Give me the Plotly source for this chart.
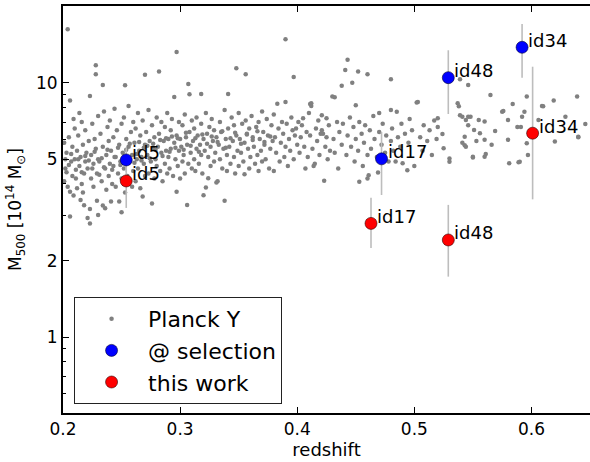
import math
import plotly.graph_objects as go

# Planck SZ clusters (redshift, M500 in 1e14 Msun), one row per redshift slice
planck_z = [
    0.201, 0.202, 0.203, 0.204, 0.204, 0.205, 0.206, 0.206, 0.206, 0.207, 0.208, 0.208, 0.209, 0.210, 0.210, 0.203, 0.201, 0.209,
    0.211, 0.212, 0.212, 0.213, 0.214, 0.215, 0.215, 0.216, 0.216, 0.217, 0.218, 0.218, 0.219, 0.219, 0.220, 0.214, 0.217,
    0.221, 0.221, 0.222, 0.223, 0.223, 0.223, 0.224, 0.224, 0.225, 0.226, 0.226, 0.227, 0.228, 0.228, 0.228, 0.229, 0.229, 0.230, 0.230, 0.230,
    0.231, 0.232, 0.233, 0.234, 0.234, 0.234, 0.235, 0.236, 0.236, 0.237, 0.237, 0.238, 0.239, 0.239, 0.240, 0.240,
    0.241, 0.241, 0.242, 0.243, 0.243, 0.244, 0.245, 0.245, 0.246, 0.247, 0.248, 0.248, 0.249, 0.250, 0.250, 0.250,
    0.251, 0.252, 0.252, 0.253, 0.253, 0.254, 0.255, 0.256, 0.256, 0.257, 0.258, 0.259, 0.259, 0.260, 0.260,
    0.261, 0.262, 0.262, 0.263, 0.264, 0.264, 0.265, 0.266, 0.266, 0.267, 0.268, 0.268, 0.269, 0.270, 0.270, 0.270,
    0.271, 0.272, 0.273, 0.273, 0.274, 0.275, 0.276, 0.276, 0.277, 0.278, 0.278, 0.279, 0.280, 0.280,
    0.281, 0.282, 0.282, 0.283, 0.284, 0.284, 0.285, 0.286, 0.287, 0.287, 0.288, 0.289, 0.289, 0.290, 0.290,
    0.291, 0.292, 0.292, 0.293, 0.294, 0.295, 0.295, 0.296, 0.297, 0.297, 0.297, 0.298, 0.299, 0.299, 0.300, 0.300,
    0.301, 0.302, 0.302, 0.303, 0.304, 0.304, 0.305, 0.306, 0.306, 0.307, 0.307, 0.308, 0.308, 0.309, 0.310, 0.310,
    0.311, 0.312, 0.312, 0.313, 0.314, 0.314, 0.315, 0.316, 0.317, 0.318, 0.318, 0.318, 0.319, 0.320, 0.320,
    0.321, 0.322, 0.322, 0.323, 0.324, 0.324, 0.325, 0.326, 0.326, 0.327, 0.328, 0.329, 0.329, 0.330,
    0.331, 0.331, 0.332, 0.333, 0.334, 0.334, 0.335, 0.336, 0.337, 0.338, 0.338, 0.339, 0.340, 0.340,
    0.341, 0.341, 0.342, 0.343, 0.344, 0.345, 0.346, 0.346, 0.347, 0.348, 0.348, 0.349, 0.350, 0.350,
    0.351, 0.352, 0.353, 0.354, 0.355, 0.355, 0.356, 0.356, 0.357, 0.358, 0.359, 0.359, 0.360,
    0.361, 0.362, 0.363, 0.364, 0.365, 0.366, 0.367, 0.367, 0.368, 0.369, 0.370, 0.370,
    0.371, 0.372, 0.373, 0.374, 0.375, 0.376, 0.377, 0.378, 0.379, 0.380, 0.380,
    0.381, 0.382, 0.383, 0.384, 0.385, 0.386, 0.387, 0.388, 0.389, 0.390, 0.390, 0.390,
    0.391, 0.392, 0.393, 0.394, 0.395, 0.396, 0.397, 0.397, 0.398, 0.399, 0.400,
    0.401, 0.402, 0.403, 0.404, 0.405, 0.406, 0.407, 0.408, 0.409, 0.410,
    0.411, 0.411, 0.412, 0.412, 0.413, 0.414, 0.415, 0.416, 0.417, 0.418, 0.419, 0.420,
    0.421, 0.421, 0.422, 0.423, 0.424, 0.425, 0.425, 0.426, 0.427, 0.428, 0.430, 0.432,
    0.431, 0.432, 0.434, 0.435, 0.436, 0.438, 0.438, 0.439,
    0.441, 0.442, 0.443, 0.443, 0.445, 0.446, 0.447, 0.448, 0.449, 0.450, 0.450,
    0.452, 0.452, 0.453, 0.453, 0.455, 0.456, 0.457, 0.458, 0.460, 0.460, 0.460,
    0.461, 0.462, 0.463, 0.465, 0.466, 0.468, 0.469, 0.470, 0.470,
    0.472, 0.473, 0.475, 0.476, 0.478, 0.480, 0.480, 0.480,
    0.481, 0.482, 0.484, 0.485, 0.486, 0.488, 0.489,
    0.490, 0.492, 0.494, 0.495, 0.496, 0.498, 0.500,
    0.502, 0.503, 0.505, 0.507, 0.508, 0.511, 0.513, 0.515, 0.517, 0.519, 0.520, 0.520, 0.524, 0.525, 0.530, 0.530,
    0.537, 0.538, 0.539, 0.539, 0.541, 0.541, 0.543, 0.543, 0.544, 0.544, 0.546, 0.546, 0.546, 0.548, 0.550, 0.550,
    0.551, 0.553, 0.555, 0.556, 0.560, 0.560, 0.560, 0.561, 0.565, 0.566, 0.569,
    0.575, 0.576, 0.580, 0.580, 0.581, 0.584, 0.588, 0.589, 0.590, 0.591, 0.592, 0.594, 0.596, 0.596, 0.597,
    0.606, 0.609, 0.610, 0.619, 0.620, 0.629, 0.639, 0.640, 0.640, 0.646,
    # extra points filling the crowded low-redshift band
    0.202, 0.205, 0.207, 0.211, 0.213, 0.216, 0.219, 0.222, 0.225, 0.227, 0.231, 0.233, 0.235, 0.238,
    0.242, 0.244, 0.247, 0.249, 0.251, 0.254, 0.257, 0.261, 0.263, 0.265, 0.267, 0.269, 0.272, 0.274,
    0.277, 0.279, 0.283, 0.285, 0.288, 0.291, 0.293, 0.296, 0.298, 0.303, 0.305, 0.309, 0.313, 0.316,
    0.319, 0.323, 0.327, 0.332, 0.336, 0.339, 0.343, 0.347, 0.352, 0.357, 0.362, 0.366, 0.372, 0.377,
]
planck_m = [
    4.1, 4.6, 5.3, 16.2, 3.9, 6.1, 3.73, 2.98, 8.5, 4.9, 5.6, 4.3, 3.6, 6.6, 5.0, 4.45, 5.8, 7.2,
    4.2, 3.85, 5.4, 6.2, 4.7, 3.46, 5.1, 7.0, 4.0, 5.7, 4.4, 3.3, 6.5, 4.9, 5.3, 7.6, 3.7,
    4.6, 2.94, 5.9, 2.8, 3.19, 8.87, 4.2, 5.2, 6.9, 3.9, 4.8, 6.0, 11.7, 10.8, 5.5, 3.44, 4.4, 3.02, 7.4, 5.0,
    4.9, 6.3, 4.1, 3.29, 9.8, 5.6, 7.7, 3.21, 4.6, 5.2, 3.8, 6.7, 4.3, 5.9, 4.8, 7.1,
    3.41, 5.4, 4.0, 6.1, 4.7, 7.9, 5.1, 3.9, 6.5, 4.4, 3.41, 5.7, 4.9, 3.1, 6.9, 4.2,
    5.3, 7.3, 4.6, 9.77, 3.7, 6.0, 4.3, 5.6, 8.1, 4.9, 6.4, 3.9, 5.2, 7.0, 4.5,
    5.8, 4.1, 6.6, 5.0, 7.6, 4.6, 5.4, 3.85, 6.2, 5.1, 3.57, 7.1, 4.8, 10.75, 5.7, 4.3,
    6.4, 5.2, 4.4, 7.8, 5.9, 4.9, 3.35, 6.8, 5.5, 4.2, 6.1, 5.0, 7.3, 4.7,
    5.6, 11.05, 6.3, 4.5, 5.3, 7.0, 4.1, 5.9, 6.7, 4.8, 5.4, 7.6, 4.4, 6.0, 5.1,
    4.6, 6.5, 5.5, 7.2, 4.3, 5.8, 8.79, 5.0, 13.2, 3.73, 6.2, 4.7, 5.4, 7.0, 6.0, 4.2,
    5.6, 6.8, 4.9, 5.2, 7.5, 4.4, 6.1, 3.31, 5.7, 9.88, 4.8, 9.0, 6.4, 5.3, 7.1, 4.6,
    5.9, 6.6, 5.0, 4.5, 7.3, 5.5, 6.2, 4.8, 5.7, 9.03, 6.9, 5.2, 4.4, 3.61, 6.0,
    5.4, 3.87, 7.6, 6.3, 4.21, 5.1, 6.7, 5.6, 4.7, 7.2, 5.9, 4.9, 6.5, 5.3,
    4.05, 6.1, 4.1, 5.7, 7.0, 5.0, 6.4, 4.6, 5.5, 3.44, 7.8, 6.0, 5.2, 4.5,
    9.03, 6.6, 5.6, 4.8, 7.3, 5.9, 6.8, 5.1, 4.4, 11.4, 6.2, 5.4, 7.6, 4.7,
    6.0, 5.3, 6.9, 4.9, 4.37, 5.8, 10.8, 7.1, 6.3, 5.5, 4.6, 6.6, 5.1,
    7.4, 6.1, 5.6, 4.8, 6.7, 5.2, 4.5, 7.0, 6.0, 5.4, 7.7, 4.9,
    6.4, 5.7, 5.0, 7.2, 6.2, 4.6, 5.5, 6.8, 5.9, 4.5, 7.5,
    6.1, 5.3, 8.27, 6.6, 4.9, 5.8, 7.0, 6.3, 5.1, 14.8, 8.4, 5.6,
    6.9, 4.7, 6.0, 5.4, 7.3, 6.5, 10.53, 5.0, 6.2, 6.6, 5.7,
    7.0, 5.3, 6.1, 6.8, 7.25, 5.6, 4.6, 6.4, 5.1, 7.6,
    8.25, 6.2, 8.1, 8.3, 5.5, 4.7, 4.8, 6.6, 5.9, 7.1, 5.2, 6.3,
    7.45, 6.5, 6.3, 4.12, 5.6, 7.25, 6.1, 5.0, 6.8, 5.4, 8.82, 8.76,
    6.0, 5.3, 7.0, 4.6, 6.4, 9.72, 5.7, 6.9,
    11.2, 5.2, 12.3, 6.2, 7.3, 5.6, 10.0, 6.7, 4.9, 8.15, 6.0,
    11.05, 5.4, 7.0, 4.08, 6.3, 4.7, 5.8, 6.8, 10.8, 5.2, 4.2,
    4.33, 6.5, 5.5, 7.4, 6.0, 5.1, 4.44, 7.6, 6.4,
    5.7, 6.9, 5.3, 6.2, 4.9, 10.3, 7.8, 5.9,
    6.6, 5.4, 4.9, 7.69, 6.1, 5.6, 6.9,
    4.82, 6.3, 4.53, 5.8, 7.2, 6.5, 4.7,
    8.35, 8.4, 6.1, 5.4, 6.8, 5.9, 6.5, 5.2, 7.1, 6.0, 7.25, 6.7, 6.28, 5.53, 5.04, 4.89,
    8.3, 8.07, 10.3, 7.45, 7.35, 5.8, 6.13, 5.68, 7.13, 5.6, 6.8, 9.8, 7.35, 7.35, 5.12, 5.08,
    6.52, 5.9, 7.13, 6.33, 7.04, 5.96, 5.12, 5.25, 8.94, 5.7, 6.46,
    7.69, 7.74, 7.13, 5.96, 4.82, 8.25, 6.7, 4.87, 4.89, 6.7, 7.35, 7.69, 8.82, 5.78, 5.2,
    7.13, 8.1, 8.07, 8.5, 5.87, 7.35, 8.82, 6.13, 6.1, 6.88,
    5.0, 4.75, 5.25, 4.55, 5.0, 4.45, 5.15, 4.95, 4.6, 5.35, 4.35, 5.05, 4.65, 5.45,
    4.55, 5.1, 5.55, 4.75, 4.95, 5.45, 5.75, 4.85, 5.25, 5.85, 4.95, 5.55, 5.65, 5.05,
    5.75, 5.45, 5.95, 5.15, 6.05, 5.35, 6.15, 5.55, 6.05, 5.45, 6.35, 5.65, 6.05, 5.35,
    6.25, 5.75, 6.15, 5.85, 6.45, 5.55, 6.05, 6.35, 5.75, 6.25, 5.95, 6.45, 5.85, 6.15,
]
assert len(planck_z) == len(planck_m)

# "@ selection" masses with error ranges
sel_names = ["id5", "id17", "id48", "id34"]
sel_z = [0.254, 0.472, 0.529, 0.592]
sel_m = [4.97, 5.02, 10.46, 13.77]
sel_hi = [5.53, 6.4, 13.4, 17.0]
sel_lo = [4.46, 3.62, 7.53, 10.46]

# "this work" masses with error ranges
work_names = ["id5", "id17", "id48", "id34"]
work_z = [0.254, 0.463, 0.529, 0.601]
work_m = [4.11, 2.80, 2.41, 6.33]
work_hi = [5.3, 3.53, 3.31, 11.55]
work_lo = [3.22, 2.24, 1.73, 3.48]

FONT = "DejaVu Sans"
ERR_COLOR = "#bdbdbd"


def err_trace(z, m, hi, lo):
    return go.Scatter(
        x=z, y=m, mode="markers",
        marker=dict(size=2, opacity=0),
        error_y=dict(type="data", symmetric=False,
                     array=[h - v for h, v in zip(hi, m)],
                     arrayminus=[v - l for v, l in zip(m, lo)],
                     color=ERR_COLOR, thickness=1.6, width=0),
        showlegend=False, hoverinfo="skip",
    )


fig = go.Figure()
fig.add_trace(go.Scatter(
    x=planck_z, y=planck_m, mode="markers", name="Planck Y",
    marker=dict(size=4.5, color="#808080", line=dict(width=0)),
))
fig.add_trace(err_trace(sel_z, sel_m, sel_hi, sel_lo))
fig.add_trace(err_trace(work_z, work_m, work_hi, work_lo))
fig.add_trace(go.Scatter(
    x=sel_z, y=sel_m, mode="markers", name="@ selection",
    marker=dict(size=12, color="#0000ff", line=dict(width=0.6, color="#000033")),
))
fig.add_trace(go.Scatter(
    x=work_z, y=work_m, mode="markers", name="this work",
    marker=dict(size=12, color="#ff0000", line=dict(width=0.6, color="#330000")),
))

for names, zs, ms in [(sel_names, sel_z, sel_m), (work_names, work_z, work_m)]:
    for n, z, m in zip(names, zs, ms):
        fig.add_annotation(
            x=z, y=math.log10(m), text=n, showarrow=False,
            xanchor="left", yanchor="middle", xshift=4, yshift=7,
            font=dict(family=FONT, size=18, color="black"),
        )

minor_vals = [0.6, 0.7, 0.8, 0.9, 3, 4, 6, 7, 8, 9, 20]
yrange = [math.log10(0.504), math.log10(20)]

fig.update_layout(
    width=590, height=462,
    margin=dict(l=63, r=0, t=6, b=49, autoexpand=False),
    paper_bgcolor="white", plot_bgcolor="white",
    font=dict(family=FONT, size=17, color="black"),
    showlegend=True,
    legend=dict(
        x=0.021, y=0.285, xanchor="left", yanchor="top",
        bordercolor="#222222", borderwidth=1, bgcolor="white",
        font=dict(family=FONT, size=22, color="black"),
        itemwidth=63, tracegroupgap=0,
        entrywidth=212, entrywidthmode="pixels",
    ),
    xaxis=dict(
        range=[0.2, 0.65], showgrid=False, zeroline=False, automargin=False,
        showline=True, linecolor="black", linewidth=2, mirror="ticks",
        ticks="inside", ticklen=6, tickwidth=1, tickcolor="black",
        tickvals=[0.2, 0.3, 0.4, 0.5, 0.6], ticktext=["0.2", "0.3", "0.4", "0.5", "0.6"],
        tickfont=dict(size=17),
        title=dict(text="redshift", font=dict(size=18), standoff=2),
    ),
    yaxis=dict(
        type="log", range=yrange, showgrid=False, zeroline=False, automargin=False,
        showline=True, linecolor="black", linewidth=2,
        ticks="inside", ticklen=6, tickwidth=1, tickcolor="black",
        tickvals=[1, 2, 5, 10], ticktext=["1", "2", "5", "10"],
        tickfont=dict(size=17),
        minor=dict(tickvals=minor_vals, ticks="inside", ticklen=3, tickcolor="black"),
        title=dict(text="M<sub>500</sub> [10<sup>14</sup> M<sub>⊙</sub>]",
                   font=dict(size=17), standoff=10),
    ),
    yaxis2=dict(
        type="log", range=yrange, overlaying="y", side="right", automargin=False,
        showgrid=False, zeroline=False, showline=False,
        ticks="inside", ticklen=6, tickwidth=1, tickcolor="black",
        tickvals=[1, 2, 5, 10], showticklabels=False,
        minor=dict(tickvals=minor_vals, ticks="inside", ticklen=3, tickcolor="black"),
    ),
)

fig.write_html("out.html", config={"displayModeBar": False},
               post_script="document.body.style.margin='0';")
